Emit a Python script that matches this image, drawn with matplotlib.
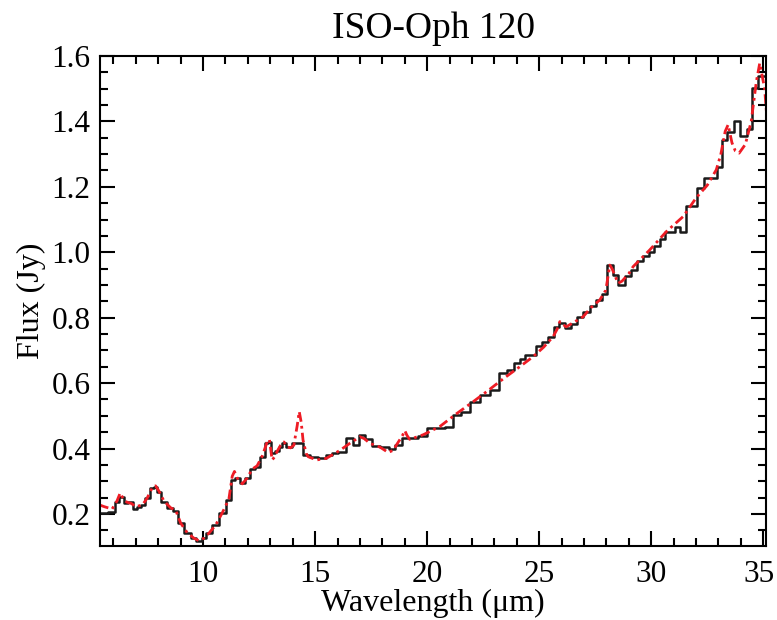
import numpy as np
import matplotlib.pyplot as plt
import matplotlib.transforms as mtransforms
from matplotlib.ticker import MultipleLocator

plt.rcParams['font.family'] = ['Liberation Serif', 'DejaVu Serif']

# observed spectrum (black histogram) - bin centres and flux
wl_obs = [5.36, 5.6, 5.94, 6.16, 6.37, 6.55, 6.77, 6.99, 7.15, 7.29, 7.51, 7.73,
          7.88, 8.03, 8.25, 8.55, 8.78, 9.0, 9.29, 9.59, 9.82, 10.04, 10.26, 10.56,
          10.86, 11.15, 11.3, 11.52, 11.75, 11.97, 12.19, 12.41, 12.64, 12.86, 12.96,
          13.08, 13.31, 13.46, 13.61, 13.83, 14.1, 14.3,
          14.6, 14.95, 15.32, 15.62, 15.88, 16.2, 16.55, 16.85, 17.1, 17.35, 17.7,
          18.1, 18.45, 18.72, 19.0, 19.4, 19.8, 20.2, 20.6, 21.0, 21.33, 21.7, 22.1,
          22.6, 23.0, 23.4, 23.72, 24.0, 24.25, 24.47, 24.72, 24.98, 25.25, 25.52,
          25.78, 26.03, 26.29, 26.56, 26.83, 27.1, 27.4, 27.66, 27.9, 28.15, 28.4,
          28.67, 28.96, 29.25, 29.5, 29.76, 30.02, 30.26, 30.49, 30.72, 30.94, 31.16,
          31.4, 31.68, 31.9, 32.17, 32.51, 32.8, 33.05, 33.27, 33.51, 33.83, 34.13,
          34.38, 34.63, 34.93, 35.27]
flux_obs = [0.202, 0.203, 0.207, 0.238, 0.253, 0.234, 0.235, 0.214, 0.220, 0.228,
            0.248, 0.279, 0.282, 0.268, 0.238, 0.217, 0.210, 0.172, 0.143, 0.126,
            0.118, 0.126, 0.141, 0.166, 0.202, 0.243, 0.304, 0.309, 0.294, 0.309,
            0.337, 0.345, 0.375, 0.416, 0.421, 0.386, 0.391, 0.406, 0.416, 0.406,
            0.416, 0.416,
            0.380, 0.373, 0.370, 0.380, 0.387, 0.390, 0.432, 0.411, 0.442, 0.428,
            0.408, 0.404, 0.398, 0.410, 0.432, 0.432, 0.439, 0.462, 0.462, 0.465,
            0.503, 0.513, 0.543, 0.564, 0.579, 0.630, 0.640, 0.661, 0.673, 0.686,
            0.687, 0.712, 0.727, 0.740, 0.773, 0.785, 0.768, 0.781, 0.803, 0.816,
            0.836, 0.854, 0.873, 0.961, 0.931, 0.900, 0.926, 0.946, 0.972, 0.989,
            1.002, 1.020, 1.040, 1.063, 1.063, 1.077, 1.063, 1.142, 1.142, 1.196,
            1.228, 1.228, 1.262, 1.344, 1.367, 1.400, 1.354, 1.377, 1.502, 1.540,
            1.410]

# model spectrum (red dash-dot)
wl_mod = [5.36, 5.6, 5.94, 6.16, 6.3, 6.45, 6.6, 6.8, 7.0, 7.3, 7.5, 7.73, 7.88,
          8.03, 8.25, 8.55, 8.78, 9.0, 9.29, 9.59, 9.82, 10.04, 10.26, 10.56, 10.86,
          11.15, 11.3, 11.4, 11.52, 11.75, 11.97, 12.19, 12.41, 12.64, 12.86, 12.96,
          13.08, 13.2, 13.31, 13.46, 13.61, 13.75, 13.9, 14.05, 14.2, 14.29, 14.38,
          14.46, 14.6, 14.69, 15.06, 15.5, 16.1, 16.55, 17.0, 17.2, 17.44, 17.9,
          18.26, 18.5, 18.63, 18.9, 19.0, 19.1, 19.22, 19.82, 20.56, 21.3, 22.05,
          22.79, 23.24, 23.53, 24.13, 24.73, 25.2, 25.62, 25.8, 25.92, 26.05, 26.2,
          26.5, 26.96, 27.3, 27.7, 27.97, 28.08, 28.15, 28.25, 28.4, 28.52, 28.7,
          29.0, 29.19, 29.93, 30.67, 31.42, 32.0, 32.5, 32.9, 33.1, 33.3, 33.43,
          33.6, 33.75, 33.92, 34.2, 34.46, 34.69, 34.84, 35.06, 35.16]
flux_mod = [0.228, 0.222, 0.215, 0.240, 0.264, 0.245, 0.236, 0.232, 0.222, 0.228,
            0.248, 0.280, 0.286, 0.270, 0.240, 0.219, 0.211, 0.172, 0.143, 0.126,
            0.118, 0.126, 0.141, 0.166, 0.204, 0.245, 0.315, 0.330, 0.310, 0.292,
            0.310, 0.337, 0.347, 0.377, 0.420, 0.428, 0.365, 0.375, 0.392, 0.410,
            0.420, 0.405, 0.402, 0.410, 0.470, 0.513, 0.480, 0.426, 0.385, 0.375,
            0.365, 0.370, 0.394, 0.416, 0.436, 0.430, 0.416, 0.404, 0.388, 0.395,
            0.411, 0.440, 0.455, 0.440, 0.428, 0.442, 0.467, 0.506, 0.543, 0.581,
            0.605, 0.620, 0.650, 0.681, 0.710, 0.742, 0.765, 0.788, 0.780, 0.772,
            0.784, 0.803, 0.830, 0.854, 0.884, 0.930, 0.961, 0.950, 0.925, 0.905,
            0.912, 0.935, 0.956, 1.007, 1.063, 1.109, 1.166, 1.205, 1.252, 1.298,
            1.370, 1.390, 1.335, 1.310, 1.303, 1.330, 1.400, 1.522, 1.578, 1.500,
            1.410]

fig = plt.figure(figsize=(7.77, 6.2), dpi=100)
ax = fig.add_axes([100/777, 74/620, 666/777, 490/620])

ax.plot(wl_obs, flux_obs, drawstyle='steps-mid', color='#1a1a1a', lw=1.8)
ax.plot(wl_mod, flux_mod, color='#ee1c25', lw=2.0, linestyle=(0, (3.5, 1.5, 1, 1.5)))

ax.set_xlim(5.4, 35.12)
ax.set_ylim(0.102, 1.6)
ax.xaxis.set_major_locator(MultipleLocator(5))
ax.xaxis.set_minor_locator(MultipleLocator(1))
ax.yaxis.set_major_locator(MultipleLocator(0.2))
ax.yaxis.set_minor_locator(MultipleLocator(0.05))
ax.yaxis.set_major_formatter(plt.FuncFormatter(lambda v, p: '%.1f' % v))
ax.tick_params(which='both', direction='in', top=True, right=True,
               labelsize=22.5, width=1.5)
ax.tick_params(which='major', length=11)
ax.tick_params(which='minor', length=6)
ax.tick_params(axis='x', pad=10)
ax.tick_params(axis='y', pad=7)
for s in ax.spines.values():
    s.set_linewidth(1.5)

ax.set_xlabel('Wavelength (\u03bcm)', fontsize=23, labelpad=0)
ax.set_ylabel('Flux (Jy)', fontsize=23, labelpad=4)
ax.set_title('ISO-Oph 120', fontsize=27, pad=13)

# nudge the last x tick label so it stays inside the figure
fig.canvas.draw()
shift = mtransforms.ScaledTranslation(-4/100, 0, fig.dpi_scale_trans)
for t in ax.get_xticklabels():
    if t.get_text() == '35':
        t.set_transform(t.get_transform() + shift)

fig.savefig('out.png', dpi=100)
